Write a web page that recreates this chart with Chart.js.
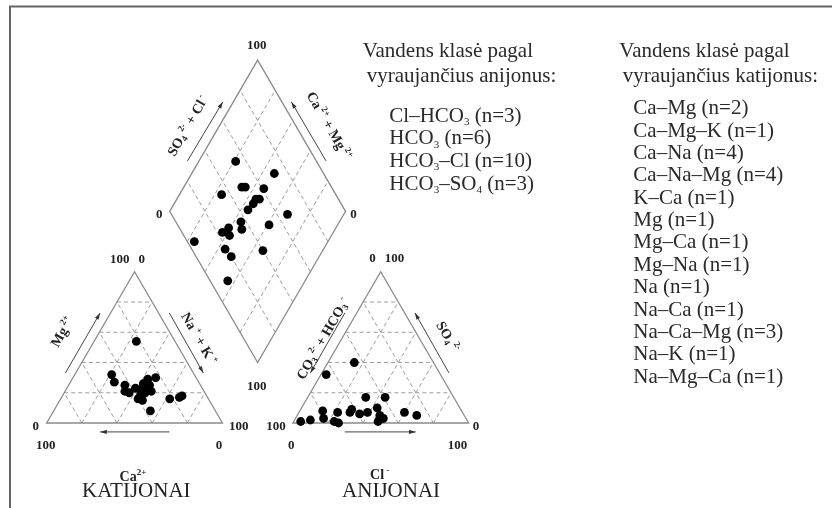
<!DOCTYPE html>
<html>
<head>
<meta charset="utf-8">
<script src="https://cdn.jsdelivr.net/npm/chart.js@4.4.1/dist/chart.umd.min.js"></script>
<style>
  html, body { margin: 0; padding: 0; background: #fff; }
  #wrap { position: relative; width: 832px; height: 508px; }
</style>
</head>
<body>
<div id="wrap"><canvas id="piper"></canvas></div>
<script>
  // cations, % meq/l
  const cationCa  = [22, 47, 48, 43, 45, 43, 38, 32, 28, 23, 29, 35, 34, 30, 40, 38, 37, 22, 16, 14, 32, 37];
  const cationMg  = [54, 32, 27, 25, 21, 20, 23, 26, 29, 30, 25, 22, 20, 21, 16, 15,  8, 16, 17, 18, 23, 19];
  const cationNaK = [24, 21, 25, 32, 34, 37, 39, 42, 43, 47, 46, 43, 46, 49, 44, 47, 55, 62, 67, 68, 45, 44];

  // anions, % meq/l
  const anionHCO3 = [45, 65, 50, 39, 95, 89, 79, 81, 71, 76, 74, 64, 62, 59, 54, 47, 48, 47, 51, 33, 27, 49];
  const anionSO4  = [40, 32, 17, 17,  1,  2,  8,  3,  7,  1,  0,  7,  9,  6,  7, 10,  5,  3,  1,  7,  5,  3];
  const anionCl   = [15,  3, 33, 44,  4,  9, 13, 16, 22, 23, 26, 29, 29, 35, 39, 43, 47, 50, 48, 60, 68, 48];

  // central field: SO4+Cl and Ca+Mg, %
  const diamondSO4Cl = [54, 72, 49, 51, 61, 35, 53, 55, 50, 45, 66, 37, 52, 28, 35, 23, 26,  4, 19, 20, 40, 10];
  const diamondCaMg  = [79, 53, 67, 65, 54, 76, 55, 53, 55, 56, 32, 56, 39, 61, 53, 63, 58, 76, 56, 50, 34, 44];

  const gridSteps = [20, 40, 60, 80];

  const anionClasses = [
    [['Cl–HCO', 'n'], ['3', 'sub'], [' (n=3)', 'n']],
    [['HCO', 'n'], ['3', 'sub'], [' (n=6)', 'n']],
    [['HCO', 'n'], ['3', 'sub'], ['–Cl (n=10)', 'n']],
    [['HCO', 'n'], ['3', 'sub'], ['–SO', 'n'], ['4', 'sub'], [' (n=3)', 'n']]
  ];
  const cationClasses = [
    'Ca–Mg (n=2)', 'Ca–Mg–K (n=1)', 'Ca–Na (n=4)', 'Ca–Na–Mg (n=4)', 'K–Ca (n=1)',
    'Mg (n=1)', 'Mg–Ca (n=1)', 'Mg–Na (n=1)', 'Na (n=1)', 'Na–Ca (n=1)',
    'Na–Ca–Mg (n=3)', 'Na–K (n=1)', 'Na–Mg–Ca (n=1)'
  ];

  // triangle side = 100 units, anion triangle shifted by 140
  const H = Math.sqrt(3) / 2;
  const cat = (ca, mg, na) => {
    const s = ca + mg + na;
    return { x: (na + 0.5 * mg) / s * 100, y: H * mg / s * 100 };
  };
  const an = (hco3, so4, cl) => {
    const s = hco3 + so4 + cl;
    return { x: 140 + (cl + 0.5 * so4) / s * 100, y: H * so4 / s * 100 };
  };
  const dm = (u, v) => ({ x: 120 + 0.5 * u - 0.5 * v, y: 20 * Math.sqrt(3) + H * (u + v) });

  const cationPts = cationCa.map((c, i) => cat(c, cationMg[i], cationNaK[i]));
  const anionPts = anionHCO3.map((h, i) => an(h, anionSO4[i], anionCl[i]));
  const diamondPts = diamondSO4Cl.map((u, i) => dm(u, diamondCaMg[i]));

  const SERIF = '"Liberation Serif", "Times New Roman", serif';

  function richText(ctx, parts, x, y, angle, size, bold, align, ratio) {
    ctx.save();
    ctx.translate(x, y);
    ctx.rotate(angle || 0);
    const small = Math.round(size * (ratio || 0.62));
    const fontFor = k => (bold ? 'bold ' : '') + (k === 'n' ? size : small) + 'px ' + SERIF;
    let w = 0;
    for (const [t, k] of parts) { ctx.font = fontFor(k); w += ctx.measureText(t).width; }
    let cx = align === 'left' ? 0 : align === 'right' ? -w : -w / 2;
    ctx.textAlign = 'left';
    ctx.textBaseline = 'alphabetic';
    const base = size * 0.33;
    for (const [t, k] of parts) {
      ctx.font = fontFor(k);
      const dy = k === 'sup' ? -size * 0.42 : k === 'sub' ? size * 0.16 : 0;
      ctx.fillText(t, cx, base + dy);
      cx += ctx.measureText(t).width;
    }
    ctx.restore();
  }

  function arrow(ctx, a, b) {
    const ang = Math.atan2(b[1] - a[1], b[0] - a[0]);
    ctx.beginPath();
    ctx.moveTo(a[0], a[1]);
    ctx.lineTo(b[0], b[1]);
    ctx.stroke();
    ctx.beginPath();
    ctx.moveTo(b[0], b[1]);
    ctx.lineTo(b[0] - 7 * Math.cos(ang - 0.3), b[1] - 7 * Math.sin(ang - 0.3));
    ctx.lineTo(b[0] - 7 * Math.cos(ang + 0.3), b[1] - 7 * Math.sin(ang + 0.3));
    ctx.closePath();
    ctx.fill();
  }

  const piperFrame = {
    id: 'piperFrame',
    beforeDatasetsDraw(chart) {
      const ctx = chart.ctx;
      const sx = chart.scales.x, sy = chart.scales.y;
      const P = p => [sx.getPixelForValue(p.x), sy.getPixelForValue(p.y)];
      const seg = (a, b) => {
        const pa = P(a), pb = P(b);
        ctx.beginPath();
        ctx.moveTo(pa[0], pa[1]);
        ctx.lineTo(pb[0], pb[1]);
        ctx.stroke();
      };
      const poly = pts => {
        ctx.beginPath();
        pts.map(P).forEach((p, i) => i ? ctx.lineTo(p[0], p[1]) : ctx.moveTo(p[0], p[1]));
        ctx.closePath();
        ctx.stroke();
      };

      ctx.save();
      // page frame
      ctx.strokeStyle = '#666';
      ctx.lineWidth = 2;
      ctx.beginPath();
      ctx.moveTo(10, 508);
      ctx.lineTo(10, 6.5);
      ctx.lineTo(832, 6.5);
      ctx.stroke();

      // dashed grids
      ctx.strokeStyle = '#9c9c9c';
      ctx.lineWidth = 1;
      ctx.setLineDash([4, 3]);
      gridSteps.forEach(k => {
        seg(cat(100 - k, k, 0), cat(0, k, 100 - k));
        seg(cat(100 - k, 0, k), cat(0, 100 - k, k));
        seg(cat(k, 0, 100 - k), cat(k, 100 - k, 0));
        seg(an(100 - k, k, 0), an(0, k, 100 - k));
        seg(an(100 - k, 0, k), an(0, 100 - k, k));
        seg(an(k, 0, 100 - k), an(k, 100 - k, 0));
        seg(dm(k, 0), dm(k, 100));
        seg(dm(0, k), dm(100, k));
      });
      ctx.setLineDash([]);

      // outlines
      ctx.strokeStyle = '#8a8a8a';
      ctx.lineWidth = 1.3;
      poly([cat(100, 0, 0), cat(0, 0, 100), cat(0, 100, 0)]);
      poly([an(100, 0, 0), an(0, 0, 100), an(0, 100, 0)]);
      poly([dm(0, 0), dm(100, 0), dm(100, 100), dm(0, 100)]);
      ctx.restore();
    },
    afterDatasetsDraw(chart) {
      const ctx = chart.ctx;
      const sx = chart.scales.x, sy = chart.scales.y;
      const P = (x, y) => [sx.getPixelForValue(x), sy.getPixelForValue(y)];
      ctx.save();
      ctx.fillStyle = '#222';
      ctx.strokeStyle = '#444';
      ctx.lineWidth = 1;

      // corner values
      const tick = (txt, v, dx, dy, align) => {
        const p = P(v.x, v.y);
        richText(ctx, [[txt, 'n']], p[0] + dx, p[1] + dy, 0, 13, true, align);
      };
      const cA = cat(100, 0, 0), cB = cat(0, 0, 100), cC = cat(0, 100, 0);
      tick('100', cC, -5, -13.5, 'right');
      tick('0', cC, 4, -13.5, 'left');
      tick('0', cA, -11, 3, 'center');
      tick('100', cA, -1, 22, 'center');
      tick('100', cB, 6.5, 3, 'left');
      tick('0', cB, -3.5, 22, 'center');

      const aA = an(100, 0, 0), aB = an(0, 0, 100), aC = an(0, 100, 0);
      tick('0', aC, -5, -14, 'right');
      tick('100', aC, 4, -14, 'left');
      tick('100', aA, -7, 3, 'right');
      tick('0', aA, -1.5, 22, 'center');
      tick('0', aB, 7.5, 3, 'center');
      tick('100', aB, -11, 22, 'center');

      tick('100', dm(100, 100), -1, -15, 'center');
      tick('0', dm(0, 100), -10.5, 2, 'center');
      tick('0', dm(100, 0), 8, 2, 'center');
      tick('100', dm(0, 0), -1, 23, 'center');

      // direction arrows
      const arr = (a, b) => arrow(ctx, P(a[0], a[1]), P(b[0], b[1]));
      ctx.fillStyle = '#333';
      arr([10.7, 28.7], [30.4, 63.0]);
      arr([69.8, 63.0], [89.1, 28.7]);
      arr([69.8, -5.1], [30.4, -5.1]);
      arr([169.6, 63.0], [150.0, 28.7]);
      arr([228.8, 28.7], [209.5, 63.0]);
      arr([169.6, -5.1], [209.9, -5.1]);
      arr([80.1, 150.1], [100.2, 183.9]);
      arr([158.9, 150.1], [139.2, 183.9]);

      // axis names
      ctx.fillStyle = '#222';
      const lab = (parts, x, y, ang) => {
        const p = P(x, y);
        richText(ctx, parts, p[0], p[1], ang, 14, true, 'center');
      };
      const up = -Math.PI / 3, down = Math.PI / 3;
      lab([['Mg', 'n'], [' 2+', 'sup']], 8.8, 52.3, up);
      lab([['Na', 'n'], [' +', 'sup'], [' + K', 'n'], [' +', 'sup']], 86.7, 48.4, down);
      lab([['Ca', 'n'], ['2+', 'sup']], 49.1, -30.3, 0);
      lab([['CO', 'n'], ['3', 'sub'], [' 2-', 'sup'], [' + HCO', 'n'], ['3', 'sub'], [' -', 'sup']], 157.0, 48.4, up);
      lab([['SO', 'n'], ['4', 'sub'], [' 2-', 'sup']], 228.3, 49.5, down);
      lab([['Cl', 'n'], [' -', 'sup']], 189.4, -29.5, 0);
      lab([['SO', 'n'], ['4', 'sub'], [' 2-', 'sup'], [' + Cl', 'n'], [' -', 'sup']], 80.1, 170.3, up);
      lab([['Ca', 'n'], [' 2+', 'sup'], [' + Mg', 'n'], [' 2+', 'sup']], 160.7, 170.3, down);

      const kat = P(51.0, -38.5), ani = P(195.9, -38.5);
      richText(ctx, [['KATIJONAI', 'n']], kat[0], kat[1], 0, 21, false, 'center');
      richText(ctx, [['ANIJONAI', 'n']], ani[0], ani[1], 0, 21, false, 'center');

      // class lists
      ctx.fillStyle = '#2a2a2a';
      richText(ctx, [['Vandens klasė pagal', 'n']], 362.7, 49.7, 0, 21, false, 'left');
      richText(ctx, [['vyraujančius anijonus:', 'n']], 366.7, 74.7, 0, 21, false, 'left');
      anionClasses.forEach((parts, i) => {
        richText(ctx, parts, 389.3, 114.7 + i * 22.7, 0, 21, false, 'left', 0.5);
      });
      richText(ctx, [['Vandens klasė pagal', 'n']], 619.3, 49.7, 0, 21, false, 'left');
      richText(ctx, [['vyraujančius katijonus:', 'n']], 622.7, 74.7, 0, 21, false, 'left');
      cationClasses.forEach((t, i) => {
        richText(ctx, [[t, 'n']], 633.3, 107.3 + i * 22.37, 0, 21, false, 'left');
      });
      ctx.restore();
    }
  };

  const dot = { backgroundColor: '#000', borderWidth: 0, pointRadius: 4.4, pointHoverRadius: 4.4, clip: false };

  new Chart(document.getElementById('piper'), {
    type: 'scatter',
    data: {
      datasets: [
        Object.assign({ label: 'Katijonai', data: cationPts }, dot),
        Object.assign({ label: 'Anijonai', data: anionPts }, dot),
        Object.assign({ label: 'Rombas', data: diamondPts }, dot)
      ]
    },
    options: {
      responsive: true,
      maintainAspectRatio: false,
      animation: false,
      layout: { padding: 0 },
      plugins: { legend: { display: false }, tooltip: { enabled: false } },
      scales: {
        x: { type: 'linear', display: false, min: -24.03, max: 444.18 },
        y: { type: 'linear', display: false, min: -46.15, max: 239.73 }
      }
    },
    plugins: [piperFrame]
  });
</script>
</body>
</html>
